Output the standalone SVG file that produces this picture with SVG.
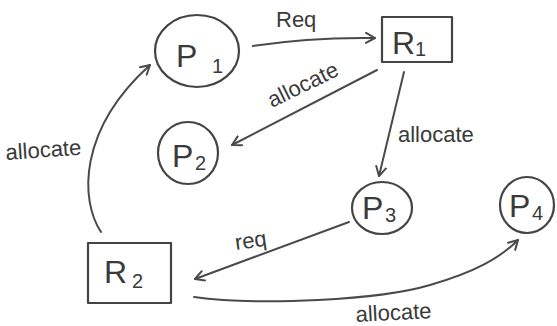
<svg xmlns="http://www.w3.org/2000/svg" width="557" height="326" viewBox="0 0 557 326">
  <style>
    .shape { fill: none; stroke: #444; stroke-width: 2.2; stroke-linecap: round; stroke-linejoin: round; }
    .edge { fill: none; stroke: #4a4a4a; stroke-width: 2; stroke-linecap: round; }
    .name { font-family: "Liberation Sans", Arial, sans-serif; font-size: 32px; fill: #3a3a3a; }
    .sub { font-family: "Liberation Sans", Arial, sans-serif; font-size: 20px; fill: #3a3a3a; }
    .lbl { font-family: "Liberation Sans", Arial, sans-serif; font-size: 22px; fill: #3a3a3a; }
  </style>
  <defs>
    <marker id="head" viewBox="0 0 12 12" refX="10" refY="6" markerWidth="12" markerHeight="12" markerUnits="userSpaceOnUse" orient="auto">
      <path d="M1,1 L10,6 L1,11" fill="none" stroke="#4a4a4a" stroke-width="2" stroke-linecap="round" stroke-linejoin="round"/>
    </marker>
  </defs>
  <rect width="557" height="326" fill="#ffffff"/>

  <g id="connectors">
    <path id="e-p1-r1" class="edge" d="M253,46 Q310,37 375,38" marker-end="url(#head)"/>
    <path id="e-r1-p2" class="edge" d="M377,70 L232,145" marker-end="url(#head)"/>
    <path id="e-r1-p3" class="edge" d="M404,72 L379,176" marker-end="url(#head)"/>
    <path id="e-p3-r2" class="edge" d="M349,222 L195,279" marker-end="url(#head)"/>
    <path id="e-r2-p1" class="edge" d="M101,232 C80,200 78,130 150,65" marker-end="url(#head)"/>
    <path id="e-r2-p4" class="edge" d="M194,297 C260,306 380,300 430,285 C475,272 500,258 518,240" marker-end="url(#head)"/>
    <text class="lbl" x="276" y="27">Req</text>
    <text class="lbl" x="272" y="108" transform="rotate(-26 272 108)">allocate</text>
    <text class="lbl" x="398" y="142">allocate</text>
    <text class="lbl" x="236" y="250" transform="rotate(-8 236 250)">req</text>
    <text class="lbl" x="6" y="160" transform="rotate(-4 6 160)">allocate</text>
    <text class="lbl" x="356" y="322" transform="rotate(-3 356 322)">allocate</text>
  </g>

  <g id="P1">
    <ellipse class="shape" cx="197" cy="51" rx="42" ry="36"/>
    <text class="name" x="176" y="67">P</text>
    <text class="sub" x="212" y="73">1</text>
  </g>
  <g id="R1">
    <rect class="shape" x="382" y="17" width="70" height="45"/>
    <text class="name" x="392" y="54" font-size="28">R</text>
    <text class="sub" x="415" y="56">1</text>
  </g>
  <g id="P2">
    <ellipse class="shape" cx="188" cy="153" rx="30" ry="31"/>
    <text class="name" x="172" y="167">P</text>
    <text class="sub" x="195" y="170">2</text>
  </g>
  <g id="P3">
    <ellipse class="shape" cx="382" cy="208" rx="30" ry="26"/>
    <text class="name" x="362" y="219" font-size="28">P</text>
    <text class="sub" x="385" y="222">3</text>
  </g>
  <g id="P4">
    <ellipse class="shape" cx="527" cy="205" rx="27" ry="28"/>
    <text class="name" x="509" y="217" font-size="28">P</text>
    <text class="sub" x="532" y="220">4</text>
  </g>
  <g id="R2">
    <rect class="shape" x="88" y="243" width="83" height="60"/>
    <text class="name" x="104" y="283">R</text>
    <text class="sub" x="132" y="288">2</text>
  </g>
</svg>
